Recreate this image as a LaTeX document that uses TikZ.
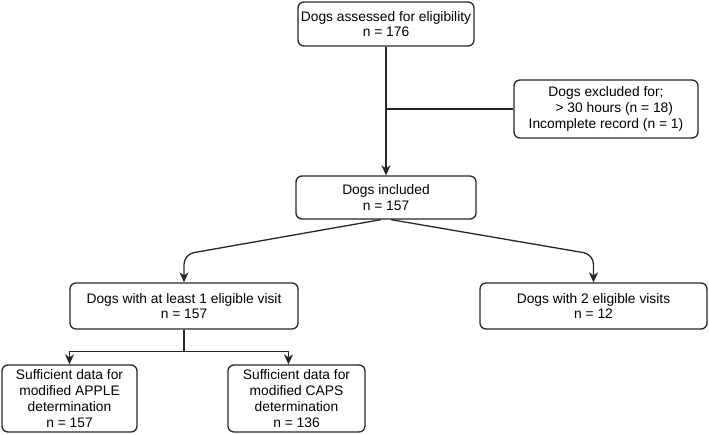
\documentclass[tikz,border=0pt]{standalone}
\usepackage{fontspec}
\setmainfont{Liberation Sans}
\usetikzlibrary{arrows.meta}

\tikzset{
    flowbox/.style={draw=black!85, line width=1.3pt, rounded corners=6pt,
        align=center, inner sep=0pt, font=\fontsize{13.8}{15.8}\selectfont},
    flowline/.style={draw=black!85, line width=1.3pt},
    flowarrow/.style={flowline, -{Stealth[length=10pt,width=9pt,inset=3pt]}}
}

\begin{document}
\begin{tikzpicture}[x=1pt, y=-1pt]
    \useasboundingbox (0,0) rectangle (709,435);

    % Top of the chart
    \node[flowbox, minimum width=176pt, minimum height=44pt] (assess) at (386,24)
        {Dogs assessed for eligibility\\n = 176};
    \node[flowbox, minimum width=184pt, minimum height=58pt] (excl) at (606,109)
        {Dogs excluded for;\\\hspace*{1.2em}> 30 hours (n = 18)\\Incomplete record (n = 1)};
    \node[flowbox, minimum width=180pt, minimum height=43pt] (incl) at (386,197.5)
        {Dogs included\\n = 157};

    \draw[flowarrow] (assess.south) -- (incl.north);
    \draw[flowline] (excl.west) -- (excl.west -| assess.south);

    % Split by visits
    \node[flowbox, minimum width=228pt, minimum height=46pt] (onevisit) at (184,306)
        {Dogs with at least 1 eligible visit\\n = 157};
    \node[flowbox, minimum width=227pt, minimum height=46pt] (twovisit) at (593.5,306)
        {Dogs with 2 eligible visits\\n = 12};

    \draw[flowarrow, rounded corners=10pt] ([xshift=-5pt]incl.south)
        -- ([yshift=28pt]onevisit.north) -- (onevisit.north);
    \draw[flowarrow, rounded corners=10pt] ([xshift=5pt]incl.south)
        -- ([yshift=28pt]twovisit.north) -- (twovisit.north);

    % Data available
    \node[flowbox, minimum width=135pt, minimum height=67pt] (apple) at (69.5,398.5)
        {Sufficient data for\\modified APPLE\\determination\\n = 157};
    \node[flowbox, minimum width=137pt, minimum height=67pt] (caps) at (296.5,398.5)
        {Sufficient data for\\modified CAPS\\determination\\n = 136};

    \draw[flowline] (onevisit.south) -- ++(0,22) coordinate (split);
    \draw[flowarrow] (split) -| (apple.north);
    \draw[flowarrow] (split) -| ([xshift=-8pt]caps.north);
\end{tikzpicture}
\end{document}
